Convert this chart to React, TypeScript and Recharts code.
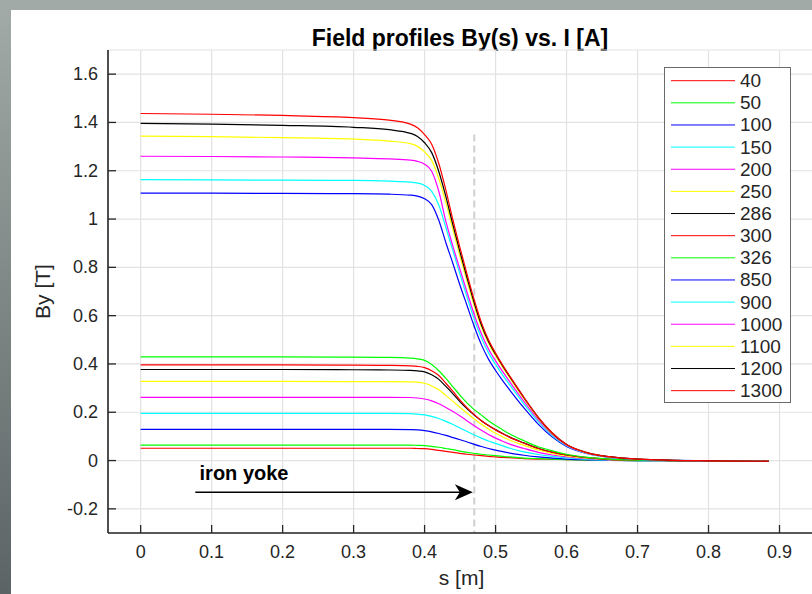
import React from 'react';
import {
  LineChart,
  Line,
  XAxis,
  YAxis,
  CartesianGrid,
  ReferenceLine,
  ReferenceDot,
  Legend,
  Label,
} from 'recharts';

const FONT = '"Liberation Sans", Arial, Helvetica, sans-serif';
const INK = '#262626';

// Longitudinal positions s [m] at which By was sampled
const sPositions = [
  0, 0.1, 0.2, 0.3, 0.35, 0.38, 0.39, 0.4, 0.41, 0.42, 0.43, 0.44, 0.45, 0.46, 0.47,
  0.48, 0.49, 0.5, 0.51, 0.52, 0.54, 0.56, 0.58, 0.6, 0.63, 0.66, 0.7, 0.75, 0.8, 0.885,
];

// Excitation currents [A]
const currents = [40, 50, 100, 150, 200, 250, 286, 300, 326, 850, 900, 1000, 1100, 1200, 1300];

// By [T] profiles, one array per current
const by40 = [0.051, 0.051, 0.051, 0.051, 0.051, 0.051, 0.05, 0.049, 0.046, 0.042, 0.038, 0.034, 0.03, 0.026, 0.023, 0.02, 0.017, 0.015, 0.013, 0.012, 0.008, 0.006, 0.005, 0.004, 0.002, 0.001, 0.0, -0.001, -0.001, -0.002];
const by50 = [0.064, 0.064, 0.064, 0.064, 0.064, 0.064, 0.063, 0.062, 0.059, 0.055, 0.05, 0.045, 0.039, 0.034, 0.03, 0.026, 0.023, 0.02, 0.017, 0.015, 0.01, 0.008, 0.006, 0.004, 0.002, 0.001, 0.0, -0.001, -0.001, -0.002];
const by100 = [0.129, 0.129, 0.129, 0.129, 0.129, 0.128, 0.127, 0.124, 0.119, 0.112, 0.104, 0.095, 0.086, 0.077, 0.067, 0.058, 0.05, 0.043, 0.037, 0.031, 0.022, 0.015, 0.01, 0.006, 0.003, 0.001, 0.0, -0.001, -0.001, -0.002];
const by150 = [0.195, 0.195, 0.195, 0.195, 0.195, 0.194, 0.192, 0.189, 0.183, 0.174, 0.162, 0.149, 0.135, 0.12, 0.106, 0.093, 0.081, 0.071, 0.061, 0.051, 0.036, 0.025, 0.017, 0.011, 0.005, 0.002, 0.0, -0.001, -0.001, -0.002];
const by200 = [0.262, 0.262, 0.262, 0.262, 0.262, 0.261, 0.259, 0.255, 0.247, 0.235, 0.22, 0.203, 0.184, 0.164, 0.144, 0.125, 0.108, 0.093, 0.08, 0.068, 0.05, 0.034, 0.023, 0.015, 0.008, 0.003, 0.001, 0.0, -0.001, -0.002];
const by250 = [0.328, 0.328, 0.328, 0.327, 0.327, 0.326, 0.325, 0.32, 0.309, 0.293, 0.27, 0.245, 0.22, 0.196, 0.172, 0.15, 0.131, 0.113, 0.098, 0.084, 0.063, 0.044, 0.03, 0.019, 0.01, 0.004, 0.001, 0.0, -0.001, -0.002];
const by286 = [0.377, 0.377, 0.377, 0.376, 0.375, 0.373, 0.371, 0.367, 0.355, 0.336, 0.307, 0.276, 0.243, 0.214, 0.188, 0.165, 0.145, 0.128, 0.112, 0.097, 0.073, 0.051, 0.035, 0.023, 0.012, 0.005, 0.002, 0.0, -0.001, -0.002];
const by300 = [0.396, 0.396, 0.396, 0.395, 0.394, 0.392, 0.39, 0.385, 0.372, 0.352, 0.32, 0.286, 0.25, 0.218, 0.19, 0.165, 0.145, 0.127, 0.111, 0.096, 0.072, 0.05, 0.035, 0.023, 0.012, 0.005, 0.002, 0.0, -0.001, -0.002];
const by326 = [0.429, 0.429, 0.429, 0.428, 0.427, 0.424, 0.421, 0.415, 0.398, 0.372, 0.34, 0.305, 0.27, 0.238, 0.211, 0.188, 0.165, 0.145, 0.127, 0.11, 0.082, 0.057, 0.04, 0.026, 0.013, 0.006, 0.002, 0.0, -0.001, -0.002];
const by850 = [1.107, 1.107, 1.106, 1.105, 1.103, 1.099, 1.095, 1.084, 1.06, 0.995, 0.902, 0.815, 0.725, 0.64, 0.555, 0.48, 0.42, 0.373, 0.331, 0.292, 0.218, 0.151, 0.097, 0.058, 0.028, 0.013, 0.005, 0.001, -0.001, -0.003];
const by900 = [1.163, 1.162, 1.161, 1.16, 1.157, 1.153, 1.149, 1.139, 1.115, 1.058, 0.965, 0.868, 0.77, 0.675, 0.585, 0.508, 0.447, 0.398, 0.354, 0.313, 0.234, 0.162, 0.103, 0.061, 0.029, 0.014, 0.005, 0.001, -0.001, -0.003];
const by1000 = [1.26, 1.259, 1.257, 1.253, 1.249, 1.244, 1.239, 1.227, 1.198, 1.115, 0.99, 0.886, 0.79, 0.695, 0.604, 0.525, 0.462, 0.413, 0.368, 0.326, 0.245, 0.17, 0.108, 0.063, 0.03, 0.015, 0.006, 0.001, -0.001, -0.003];
const by1100 = [1.343, 1.341, 1.337, 1.331, 1.323, 1.312, 1.301, 1.278, 1.243, 1.168, 1.068, 0.955, 0.845, 0.74, 0.64, 0.553, 0.486, 0.433, 0.386, 0.342, 0.256, 0.176, 0.111, 0.065, 0.031, 0.015, 0.006, 0.001, -0.001, -0.003];
const by1200 = [1.396, 1.393, 1.388, 1.38, 1.37, 1.355, 1.342, 1.316, 1.275, 1.197, 1.093, 0.975, 0.862, 0.755, 0.652, 0.562, 0.493, 0.44, 0.392, 0.347, 0.26, 0.179, 0.113, 0.066, 0.032, 0.016, 0.006, 0.001, -0.001, -0.003];
const by1300 = [1.437, 1.434, 1.429, 1.42, 1.41, 1.393, 1.378, 1.35, 1.31, 1.23, 1.12, 0.995, 0.88, 0.77, 0.665, 0.572, 0.5, 0.445, 0.395, 0.35, 0.262, 0.18, 0.114, 0.066, 0.032, 0.016, 0.006, 0.001, -0.001, -0.003];

const seriesValues = [by40, by50, by100, by150, by200, by250, by286, by300, by326, by850, by900, by1000, by1100, by1200, by1300];

const xTicks = [0, 0.1, 0.2, 0.3, 0.4, 0.5, 0.6, 0.7, 0.8, 0.9];
const yTicks = [-0.2, 0, 0.2, 0.4, 0.6, 0.8, 1, 1.2, 1.4, 1.6];

// End of the iron yoke and the annotation arrow
const yokeEnd = 0.47;
const yokeMarkerTop = 1.35;
const arrowFrom = 0.077;
const arrowTo = 0.468;
const arrowLevel = -0.131;
const yokeText = { s: 0.083, by: -0.051 };

const palette = ['#ff0000', '#00ff00', '#0000ff', '#00ffff', '#ff00ff', '#ffff00', '#000000'];
const colorOf = (k: number) => palette[k % palette.length];

const rows = sPositions.map((s, i) => {
  const r: Record<string, number> = { s };
  currents.forEach((c, k) => {
    r[`I${c}`] = seriesValues[k][i];
  });
  return r;
});

const fmt = (v: number) => String(Math.round(v * 10) / 10);

const XTick = (props: any) => {
  const { x, y, payload } = props;
  return (
    <g>
      <line x1={x} y1={y} x2={x} y2={y - 8} stroke={INK} strokeWidth={1.3} />
      <text x={x} y={y + 19} textAnchor="middle" dominantBaseline="central" fontSize={18} fontFamily={FONT} fill={INK}>
        {fmt(payload.value)}
      </text>
    </g>
  );
};

const YTick = (props: any) => {
  const { x, y, payload } = props;
  return (
    <g>
      <line x1={x} y1={y} x2={x + 8} y2={y} stroke={INK} strokeWidth={1.3} />
      <text x={x - 10} y={y} textAnchor="end" dominantBaseline="central" fontSize={18} fontFamily={FONT} fill={INK}>
        {fmt(payload.value)}
      </text>
    </g>
  );
};

const LEG_W = 127;
const LEG_H = 336;
const LEG_ROW = 22.14;

const LegendBox = () => (
  <svg width={LEG_W} height={LEG_H} style={{ display: 'block' }}>
    <rect x={0.5} y={0.5} width={LEG_W - 1} height={LEG_H - 1} fill="#ffffff" stroke="#6a6a6a" strokeWidth={1} />
    {currents.map((c, k) => {
      const cy = 13.7 + k * LEG_ROW;
      return (
        <g key={c}>
          <line x1={7} y1={cy} x2={71} y2={cy} stroke={colorOf(k)} strokeWidth={1} />
          <text x={76} y={cy} dominantBaseline="central" fontSize={19} fontFamily={FONT} fill={INK}>
            {c}
          </text>
        </g>
      );
    })}
  </svg>
);

const ArrowHead = (props: any) => {
  const { cx, cy } = props;
  return <path d={`M${cx},${cy} L${cx - 18},${cy - 8} L${cx - 13},${cy} L${cx - 18},${cy + 8} Z`} fill="#000" />;
};

const YokeLabel = (props: any) => {
  const { cx, cy } = props;
  return (
    <text x={cx} y={cy} dominantBaseline="central" fontSize={20} fontWeight="bold" fontFamily={FONT} fill="#000">
      iron yoke
    </text>
  );
};

export default function App() {
  return (
    <div
      style={{
        position: 'absolute',
        left: 0,
        top: 0,
        width: 812,
        height: 594,
        overflow: 'hidden',
        background: 'linear-gradient(to bottom, #a2aba7, #5c6365)',
      }}
    >
      <div style={{ position: 'absolute', left: 11, top: 10, right: 0, bottom: 0, background: '#ffffff' }} />
      <div
        style={{
          position: 'absolute',
          left: 260,
          width: 400,
          top: 25,
          textAlign: 'center',
          fontFamily: FONT,
          fontWeight: 'bold',
          fontSize: 23,
          color: '#000',
          lineHeight: '26px',
        }}
      >
        Field profiles By(s) vs. I [A]
      </div>
      <div style={{ position: 'absolute', left: 0, top: 0 }}>
        <LineChart width={830} height={594} data={rows} margin={{ top: 50, right: 15, left: 0, bottom: 0 }}>
          <CartesianGrid stroke="#e2e2e2" strokeWidth={1.2} />
          <XAxis
            dataKey="s"
            type="number"
            domain={[-0.046, 0.95]}
            ticks={xTicks}
            tick={<XTick />}
            tickSize={0}
            tickMargin={0}
            height={61}
            axisLine={{ stroke: INK, strokeWidth: 1.6 }}
            tickLine={false}
            allowDataOverflow
          >
            <Label
              content={(p: any) => {
                const vb = p.viewBox;
                return (
                  <text x={vb.x + vb.width / 2} y={577} textAnchor="middle" dominantBaseline="central" fontSize={21} fontFamily={FONT} fill={INK}>
                    s [m]
                  </text>
                );
              }}
            />
          </XAxis>
          <YAxis
            type="number"
            domain={[-0.3, 1.7]}
            ticks={yTicks}
            tick={<YTick />}
            tickSize={0}
            tickMargin={0}
            width={108}
            axisLine={{ stroke: INK, strokeWidth: 1.6 }}
            tickLine={false}
            allowDataOverflow
          >
            <Label
              content={(p: any) => {
                const vb = p.viewBox;
                const cy = vb.y + vb.height / 2;
                return (
                  <text x={42} y={cy} transform={`rotate(-90 42 ${cy})`} textAnchor="middle" dominantBaseline="central" fontSize={21} fontFamily={FONT} fill={INK}>
                    By [T]
                  </text>
                );
              }}
            />
          </YAxis>
          <ReferenceLine
            segment={[
              { x: yokeEnd, y: yokeMarkerTop },
              { x: yokeEnd, y: -0.3 },
            ]}
            stroke="#d0d0d0"
            strokeWidth={2}
            strokeDasharray="7 4"
          />
          {currents.map((c, k) => (
            <Line
              key={c}
              dataKey={`I${c}`}
              name={String(c)}
              type="monotone"
              stroke={colorOf(k)}
              strokeWidth={1.2}
              dot={false}
              activeDot={false}
              isAnimationActive={false}
            />
          ))}
          <ReferenceLine
            segment={[
              { x: arrowFrom, y: arrowLevel },
              { x: arrowTo - 0.015, y: arrowLevel },
            ]}
            stroke="#000"
            strokeWidth={1.6}
          />
          <ReferenceDot x={arrowTo} y={arrowLevel} r={0} shape={<ArrowHead />} />
          <ReferenceDot x={yokeText.s} y={yokeText.by} r={0} shape={<YokeLabel />} />
          <Legend
            content={<LegendBox />}
            layout="vertical"
            align="center"
            verticalAlign="middle"
            wrapperStyle={{ position: 'absolute', left: 664, top: 67, width: LEG_W, height: LEG_H }}
          />
        </LineChart>
      </div>
    </div>
  );
}
